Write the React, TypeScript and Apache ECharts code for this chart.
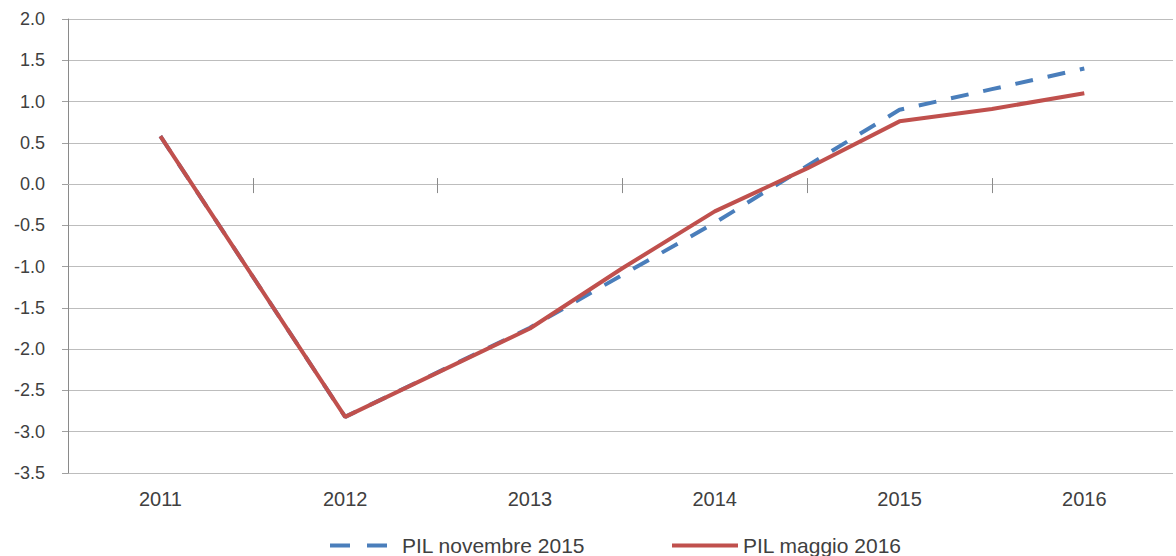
import React, { useEffect, useRef } from "react";
import * as echarts from "echarts";

const yearTicks = [2011, 2012, 2013, 2014, 2015, 2016];
const midYearTicks = [2011.5, 2012.5, 2013.5, 2014.5, 2015.5];
const seriesNames = ["PIL novembre 2015", "PIL maggio 2016"];
const periodsNov = [2011, 2012, 2013, 2013.5, 2014, 2014.5, 2015, 2015.5, 2016];
const valuesNov = [0.58, -2.82, -1.74, -1.1, -0.47, 0.22, 0.9, 1.15, 1.4];
const periodsMay = [2011, 2012, 2013, 2013.5, 2014, 2014.5, 2015, 2015.5, 2016];
const valuesMay = [0.58, -2.82, -1.75, -1.02, -0.33, 0.19, 0.76, 0.91, 1.1];

const FONT = "'Liberation Sans', Arial, sans-serif";
const TEXT = "#404040";

export default function App() {
  const ref = useRef<HTMLDivElement>(null);
  useEffect(() => {
    document.body.style.margin = "0";
    if (!ref.current) return;
    const chart = echarts.init(ref.current, undefined, { renderer: "svg" });
    const xBase = { type: "value" as const, min: 2010.5, max: 2016.48 };
    chart.setOption({
      animation: false,
      backgroundColor: "#ffffff",
      grid: { left: 68, right: 0, top: 19, bottom: 83, containLabel: false },
      xAxis: [
        {
          ...xBase,
          interval: 0.5,
          position: "bottom",
          axisLine: { show: false, onZero: false },
          axisTick: { show: false },
          splitLine: { show: false },
          axisLabel: {
            formatter: (v: number) => (Number.isInteger(v) && yearTicks.includes(v) ? String(v) : ""),
            fontSize: 20,
            color: TEXT,
            fontFamily: FONT,
            margin: 16,
          },
        },
        {
          ...xBase,
          interval: 1,
          position: "bottom",
          axisLine: { show: true, onZero: true, onZeroAxisIndex: 0, lineStyle: { color: "#bdbdbd" } },
          axisTick: { show: true, length: 9, customValues: midYearTicks, lineStyle: { color: "#8a8a8a" } },
          axisLabel: { show: false },
          splitLine: { show: false },
        },
        {
          ...xBase,
          interval: 1,
          position: "top",
          axisLine: { show: true, onZero: true, onZeroAxisIndex: 0, lineStyle: { color: "#bdbdbd" } },
          axisTick: { show: true, length: 6, customValues: midYearTicks, lineStyle: { color: "#8a8a8a" } },
          axisLabel: { show: false },
          splitLine: { show: false },
        },
      ],
      yAxis: {
        type: "value",
        min: -3.5,
        max: 2,
        interval: 0.5,
        axisLine: { show: true, lineStyle: { color: "#8a8a8a" } },
        axisTick: { show: true, length: 6, lineStyle: { color: "#a0a0a0" } },
        splitLine: { show: true, lineStyle: { color: "#bdbdbd", width: 1 } },
        axisLabel: {
          formatter: (v: number) => v.toFixed(1),
          fontSize: 18,
          color: TEXT,
          fontFamily: FONT,
          margin: 23,
        },
      },
      legend: [
        {
          data: [seriesNames[0]],
          left: 323,
          top: 530,
          itemWidth: 59,
          itemHeight: 14,
          itemStyle: { opacity: 0 },
          lineStyle: { type: [20, 17], width: 4 },
          textStyle: { fontSize: 21, color: TEXT, fontFamily: FONT, padding: [0, 0, 0, 8] },
        },
        {
          data: [seriesNames[1]],
          left: 665,
          top: 530,
          itemWidth: 66,
          itemHeight: 14,
          itemStyle: { opacity: 0 },
          lineStyle: { width: 4 },
          textStyle: { fontSize: 21, color: TEXT, fontFamily: FONT },
        },
      ],
      series: [
        {
          name: seriesNames[0],
          type: "line",
          xAxisIndex: 0,
          symbol: "none",
          data: periodsNov.map((p, i) => [p, valuesNov[i]]),
          lineStyle: { color: "#4A7EBB", width: 4, type: [18, 15] },
          itemStyle: { color: "#4A7EBB" },
          z: 2,
        },
        {
          name: seriesNames[1],
          type: "line",
          xAxisIndex: 0,
          symbol: "none",
          data: periodsMay.map((p, i) => [p, valuesMay[i]]),
          lineStyle: { color: "#C0504D", width: 4 },
          itemStyle: { color: "#C0504D" },
          z: 3,
        },
      ],
    });
    return () => chart.dispose();
  }, []);
  return (
    <div
      ref={ref}
      style={{ position: "absolute", left: 0, top: 0, width: 1176, height: 556 }}
    />
  );
}
